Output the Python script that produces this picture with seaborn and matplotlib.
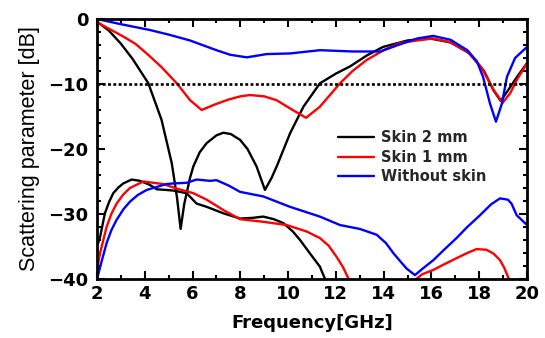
import numpy as np
import pandas as pd
import seaborn as sns
import matplotlib
matplotlib.use("Agg")
import matplotlib.pyplot as plt
from matplotlib.ticker import MultipleLocator

# ---- data ----
skin2_s11_x = [2.0, 2.5, 3.0, 3.5, 4.15, 4.7, 5.13, 5.35, 5.5, 5.65, 5.89, 6.03, 6.3, 6.59, 7.0, 7.29, 7.6, 7.99, 8.3, 8.68, 9.03, 9.3, 9.52, 10.08, 10.64, 11.33, 12.0, 12.59, 13.3, 13.97, 15.0, 15.94, 16.8, 17.6, 18.2, 18.6, 18.9, 19.2, 19.6, 20.0]
skin2_s11_y = [-0.4, -1.8, -3.8, -6.2, -9.9, -15.5, -22.2, -27.5, -32.3, -28.5, -24.5, -22.7, -20.5, -19.1, -17.9, -17.5, -17.7, -18.6, -20.0, -22.7, -26.3, -24.5, -22.7, -17.6, -13.5, -9.9, -8.4, -7.3, -5.6, -4.3, -3.3, -3.0, -3.6, -5.3, -8.0, -11.0, -12.6, -11.0, -8.8, -6.8]

skin1_s11_x = [2.0, 2.5, 3.1, 3.6, 4.08, 4.7, 5.34, 5.9, 6.38, 6.9, 7.5, 8.0, 8.4, 9.0, 9.52, 10.1, 10.75, 11.33, 12.17, 12.7, 13.29, 14.0, 14.68, 15.4, 16.07, 16.8, 17.5, 18.1, 18.6, 18.98, 19.3, 19.57, 20.0]
skin1_s11_y = [-0.5, -1.5, -2.7, -3.8, -5.3, -7.4, -9.9, -12.5, -14.0, -13.2, -12.4, -11.9, -11.7, -11.9, -12.5, -13.8, -15.2, -13.5, -9.9, -8.0, -6.3, -4.8, -3.7, -3.3, -3.0, -3.6, -5.0, -7.5, -10.9, -12.9, -11.4, -9.4, -6.8]

noskin_s11_x = [2.0, 3.0, 4.22, 5.0, 5.89, 7.0, 7.57, 8.27, 9.1, 10.08, 11.33, 12.72, 13.85, 14.68, 15.4, 16.07, 16.8, 17.5, 17.9, 18.16, 18.45, 18.7, 18.95, 19.16, 19.5, 20.0]
noskin_s11_y = [0.0, -0.8, -1.7, -2.4, -3.3, -4.8, -5.5, -5.9, -5.4, -5.3, -4.8, -5.0, -5.0, -3.9, -3.0, -2.6, -3.2, -4.8, -6.5, -8.9, -13.0, -15.8, -13.0, -8.9, -6.0, -4.3]

skin2_s21_x = [2.0, 2.13, 2.33, 2.5, 2.68, 2.9, 3.1, 3.45, 3.8, 4.2, 4.5, 4.9, 5.2, 5.75, 6.17, 6.59, 7.29, 7.99, 8.5, 8.96, 9.4, 9.8, 10.2, 10.5, 10.9, 11.33, 11.6]
skin2_s21_y = [-35.0, -33.5, -29.9, -28.2, -26.8, -25.9, -25.3, -24.7, -24.9, -25.5, -26.2, -26.3, -26.4, -26.8, -28.4, -28.9, -29.9, -30.7, -30.6, -30.4, -30.8, -31.4, -32.7, -34.0, -36.0, -38.1, -40.5]

skin1_s21a_x = [2.0, 2.13, 2.4, 2.6, 2.82, 3.1, 3.38, 3.94, 4.78, 5.34, 6.03, 6.59, 7.29, 7.99, 8.96, 9.94, 10.78, 11.33, 11.7, 12.03, 12.3, 12.6]
skin1_s21a_y = [-38.6, -36.0, -32.0, -30.0, -28.4, -27.0, -26.0, -25.0, -25.4, -26.1, -26.8, -27.8, -29.4, -30.8, -31.2, -31.7, -32.7, -33.7, -34.9, -36.6, -38.2, -40.5]
skin1_s21b_x = [15.2, 15.6, 16.08, 16.5, 17.05, 17.5, 17.89, 18.3, 18.6, 18.87, 19.05, 19.3]
skin1_s21b_y = [-40.5, -39.3, -38.6, -37.8, -36.8, -36.0, -35.4, -35.5, -36.1, -37.1, -38.3, -40.5]

noskin_s21_x = [2.0, 2.2, 2.4, 2.6, 2.82, 3.1, 3.38, 3.7, 4.08, 4.9, 5.2, 5.75, 6.17, 6.73, 7.0, 7.5, 7.99, 8.96, 10.08, 11.33, 12.17, 13.0, 13.71, 14.1, 14.4, 14.7, 14.96, 15.31, 15.6, 16.08, 16.5, 17.05, 17.5, 18.03, 18.5, 18.87, 19.2, 19.35, 19.57, 19.8, 20.0]
noskin_s21_y = [-40.0, -37.2, -34.5, -32.5, -30.9, -29.3, -28.1, -27.1, -26.3, -25.4, -25.3, -25.2, -24.7, -24.9, -24.8, -25.6, -26.6, -27.3, -28.9, -30.4, -31.7, -32.3, -33.2, -34.5, -36.0, -37.3, -38.4, -39.4, -38.5, -37.1, -35.6, -33.7, -32.0, -30.2, -28.5, -27.6, -27.8, -28.4, -30.2, -31.0, -31.7]

labels = ["Skin 2 mm", "Skin 1 mm", "Without skin"]
colors = ["black", "#ff0000", "#0000ff"]
x_ticks = [2, 4, 6, 8, 10, 12, 14, 16, 18, 20]
y_ticks = [0, -10, -20, -30, -40]
threshold = -10

# ---- style ----
sns.set_theme(style="ticks")
plt.rcParams["font.family"] = ["DejaVu Sans"]

fig, ax = plt.subplots(figsize=(5.45, 3.38), dpi=100)
fig.subplots_adjust(left=0.178, right=0.967, bottom=0.1746, top=0.9438)

curves = [
    (skin2_s11_x, skin2_s11_y, 0, True),
    (skin1_s11_x, skin1_s11_y, 1, True),
    (noskin_s11_x, noskin_s11_y, 2, True),
    (skin2_s21_x, skin2_s21_y, 0, False),
    (skin1_s21a_x, skin1_s21a_y, 1, False),
    (skin1_s21b_x, skin1_s21b_y, 1, False),
    (noskin_s21_x, noskin_s21_y, 2, False),
]
for xs, ys, ci, lab in curves:
    df = pd.DataFrame({"f": xs, "s": ys})
    sns.lineplot(data=df, x="f", y="s", ax=ax, color=colors[ci], lw=1.7,
                 sort=False, estimator=None,
                 label=labels[ci] if lab else None)

ax.axhline(threshold, color="black", lw=1.9, linestyle=(0, (1.1, 0.9)))

ax.set_xlim(2, 20)
ax.set_ylim(-40, 0)
ax.set_xticks(x_ticks)
ax.set_yticks(y_ticks)
ax.xaxis.set_minor_locator(MultipleLocator(1))
ax.yaxis.set_minor_locator(MultipleLocator(2))
ax.tick_params(which="both", direction="in", top=True, right=True, width=1.5, color="black")
ax.tick_params(which="major", length=5.5)
ax.tick_params(which="minor", length=3)
ax.tick_params(axis="y", which="major", pad=6)
ax.tick_params(axis="x", which="major", pad=4)
for lbl in ax.get_xticklabels() + ax.get_yticklabels():
    lbl.set_fontweight("bold")
    lbl.set_fontsize(13)
    lbl.set_color("black")
for sp in ax.spines.values():
    sp.set_linewidth(2.0)
    sp.set_color("black")

ax.set_xlabel("Frequency[GHz]", fontsize=13, fontweight="bold", labelpad=8, color="black")
ax.set_ylabel("Scattering parameter [dB]", fontsize=15.5, family=["Liberation Sans"],
              labelpad=6, color="black")

leg = ax.legend(loc="upper left", bbox_to_anchor=(0.529, 0.622), frameon=False,
                handlelength=2.5, handletextpad=0.45, labelspacing=0.3,
                prop={"weight": "bold", "size": 10.5})
for line in leg.get_lines():
    line.set_linewidth(1.7)

fig.savefig("out.png", dpi=100)
